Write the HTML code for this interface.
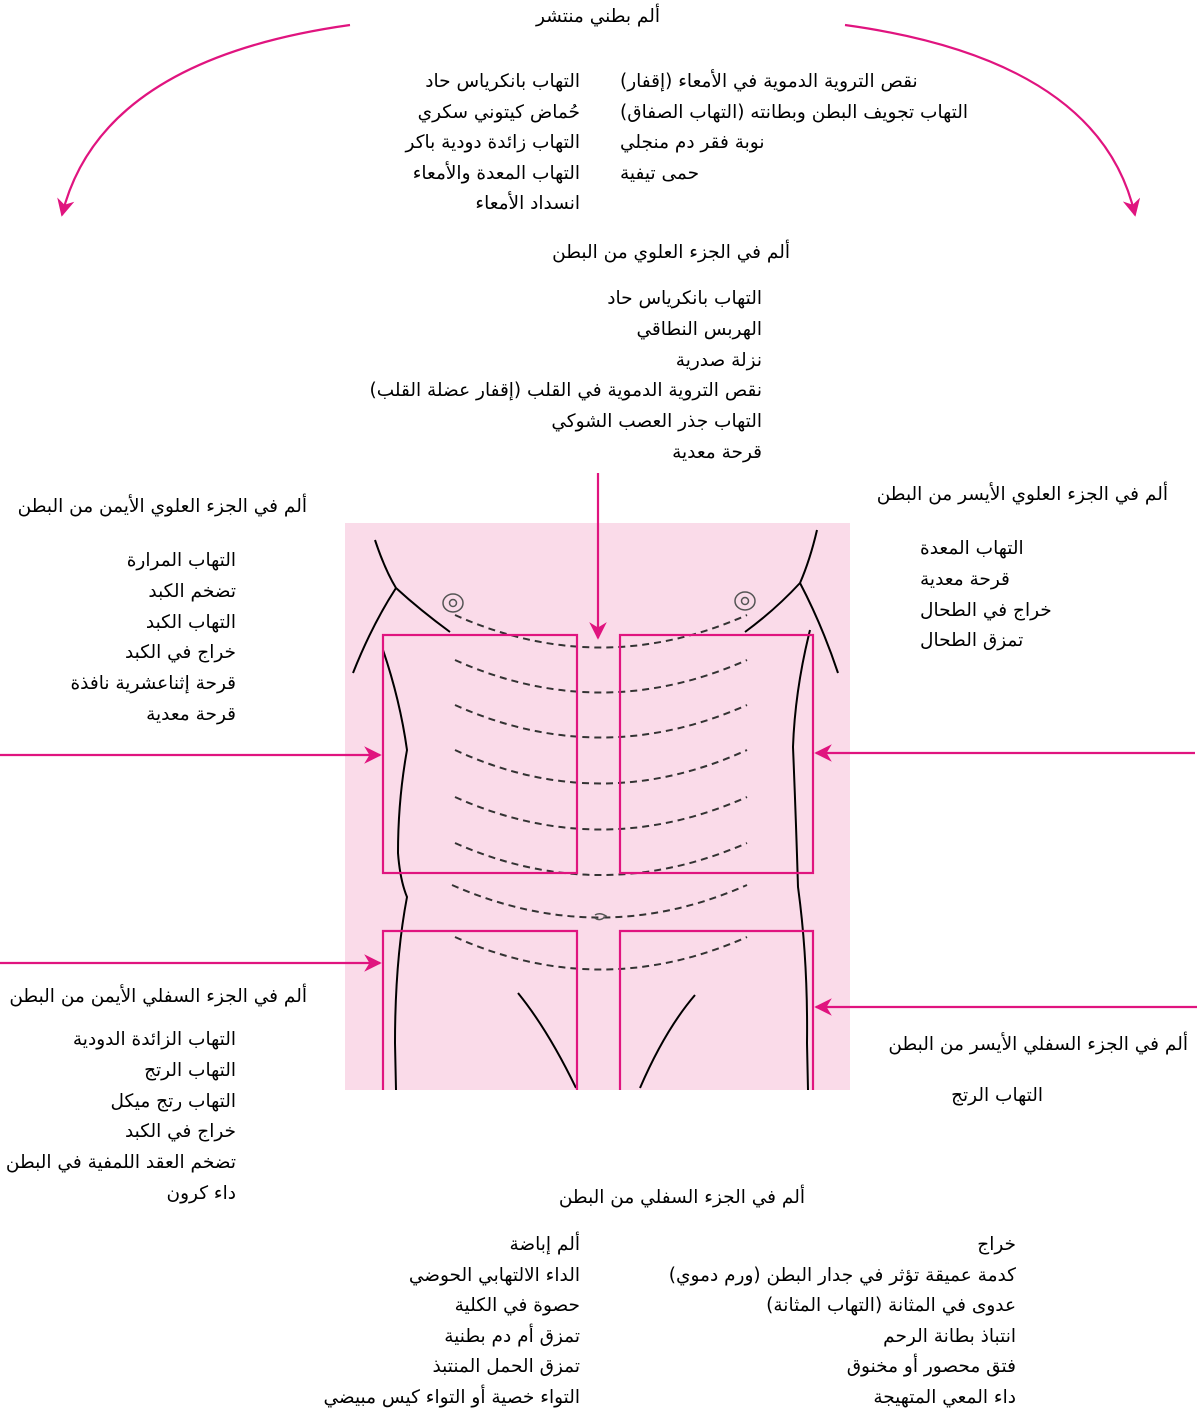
<!DOCTYPE html>
<html><head><meta charset="utf-8"><style>
body{margin:0;background:#fff;}
#c{position:relative;width:1200px;height:1410px;overflow:hidden;font-family:"DejaVu Sans","Liberation Sans",sans-serif;font-size:18.5px;color:#000;}
.t{position:absolute;direction:rtl;white-space:nowrap;line-height:22px;}
svg{position:absolute;left:0;top:0;}
</style></head><body><div id="c">
<svg width="1200" height="1410" viewBox="0 0 1200 1410">
<defs><marker id="a" viewBox="0 0 10 10" refX="9" refY="5" markerWidth="8" markerHeight="8" orient="auto"><path d="M0,0 L10,5 L0,10 L3,5 z" fill="#e0147f"/></marker></defs>
<rect x="345" y="523" width="505" height="567" fill="#fadbe9"/>
<g fill="none" stroke="#000" stroke-width="2">
<path d="M375,540 Q385,570 396,588 Q420,610 450,632"/>
<path d="M396,588 Q372,625 353,673"/>
<path d="M383,650 Q400,700 407,750 Q398,800 398,853 Q400,880 407,897 Q395,960 395,1043 L396,1090"/>
<path d="M817,530 Q810,560 800,583 Q775,610 745,632"/>
<path d="M800,583 Q822,625 838,673"/>
<path d="M810,630 Q795,690 793,747 Q796,820 798,887 Q808,960 807,1043 L808,1090"/>
<path d="M518,993 Q548,1030 576,1088"/>
<path d="M695,995 Q665,1030 640,1088"/>
</g>
<g fill="none" stroke="#333" stroke-width="2" stroke-dasharray="7,5">
<path d="M455,615 Q600,680 747,615"/>
<path d="M455,660 Q600,725 747,660"/>
<path d="M455,705 Q600,770 747,705"/>
<path d="M455,750 Q600,817 747,750"/>
<path d="M455,797 Q600,862 747,797"/>
<path d="M455,843 Q600,907 747,843"/>
<path d="M452,885 Q600,950 747,885"/>
<path d="M455,937 Q600,1002 747,937"/>
</g>
<g fill="none" stroke="#555" stroke-width="1.5">
<ellipse cx="453" cy="603" rx="10" ry="9"/><circle cx="453" cy="603" r="3.5"/>
<ellipse cx="745" cy="601" rx="10" ry="9"/><circle cx="745" cy="601" r="3.5"/>
<path d="M595,915 Q600,912 606,916 Q600,922 595,918"/>
</g>
<g fill="none" stroke="#e0147f" stroke-width="2.2">
<rect x="383" y="635" width="194" height="238"/>
<rect x="620" y="635" width="193" height="238"/>
<path d="M383,1090 V931 H577 V1090"/>
<path d="M620,1090 V931 H813 V1090"/>
<path d="M350,25 Q100,60 62,215" marker-end="url(#a)"/>
<path d="M845,25 Q1100,60 1135,215" marker-end="url(#a)"/>
<path d="M598,473 V638" marker-end="url(#a)"/>
<path d="M0,755 H380" marker-end="url(#a)"/>
<path d="M1195,753 H816" marker-end="url(#a)"/>
<path d="M0,963 H380" marker-end="url(#a)"/>
<path d="M1197,1007 H816" marker-end="url(#a)"/>
</g>
</svg>
<div class="t" style="right:540px;top:6px">ألم بطني منتشر</div>
<div class="t" style="right:620px;top:67px;text-align:right;line-height:30.5px">التهاب بانكرياس حاد<br>حُماض كيتوني سكري<br>التهاب زائدة دودية باكر<br>التهاب المعدة والأمعاء<br>انسداد الأمعاء</div>
<div class="t" style="left:620px;top:67px;text-align:left;line-height:30.5px">نقص التروية الدموية في الأمعاء (إقفار)<br>التهاب تجويف البطن وبطانته (التهاب الصفاق)<br>نوبة فقر دم منجلي<br>حمى تيفية</div>
<div class="t" style="right:410px;top:242px">ألم في الجزء العلوي من البطن</div>
<div class="t" style="right:438px;top:284px;line-height:30.8px;text-align:right">التهاب بانكرياس حاد<br>الهربس النطاقي<br>نزلة صدرية<br>نقص التروية الدموية في القلب (إقفار عضلة القلب)<br>التهاب جذر العصب الشوكي<br>قرحة معدية</div>
<div class="t" style="right:893px;top:496px">ألم في الجزء العلوي الأيمن من البطن</div>
<div class="t" style="right:964px;top:546px;line-height:30.8px;text-align:right">التهاب المرارة<br>تضخم الكبد<br>التهاب الكبد<br>خراج في الكبد<br>قرحة إثناعشرية نافذة<br>قرحة معدية</div>
<div class="t" style="right:32px;top:484px">ألم في الجزء العلوي الأيسر من البطن</div>
<div class="t" style="left:920px;top:534px;line-height:30.8px;text-align:left">التهاب المعدة<br>قرحة معدية<br>خراج في الطحال<br>تمزق الطحال</div>
<div class="t" style="right:893px;top:986px">ألم في الجزء السفلي الأيمن من البطن</div>
<div class="t" style="right:964px;top:1025px;line-height:30.8px;text-align:right">التهاب الزائدة الدودية<br>التهاب الرتج<br>التهاب رتج ميكل<br>خراج في الكبد<br>تضخم العقد اللمفية في البطن<br>داء كرون</div>
<div class="t" style="right:12px;top:1034px">ألم في الجزء السفلي الأيسر من البطن</div>
<div class="t" style="right:157px;top:1085px">التهاب الرتج</div>
<div class="t" style="right:395px;top:1187px">ألم في الجزء السفلي من البطن</div>
<div class="t" style="right:620px;top:1230px;line-height:30.6px;text-align:right">ألم إباضة<br>الداء الالتهابي الحوضي<br>حصوة في الكلية<br>تمزق أم دم بطنية<br>تمزق الحمل المنتبذ<br>التواء خصية أو التواء كيس مبيضي</div>
<div class="t" style="right:184px;top:1230px;line-height:30.6px;text-align:right">خراج<br>كدمة عميقة تؤثر في جدار البطن (ورم دموي)<br>عدوى في المثانة (التهاب المثانة)<br>انتباذ بطانة الرحم<br>فتق محصور أو مخنوق<br>داء المعي المتهيجة</div>
</div></body></html>
